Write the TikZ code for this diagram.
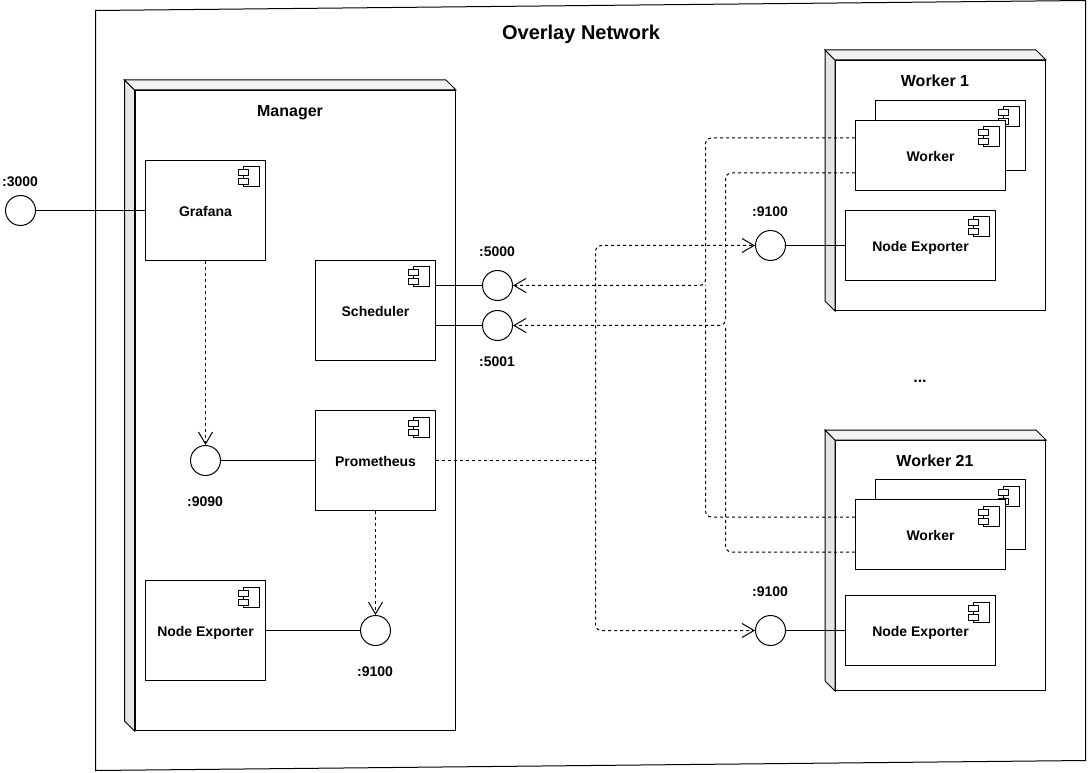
\documentclass[tikz,border=0pt]{standalone}
\usepackage{fontspec}
\setmainfont{Liberation Sans}
\usetikzlibrary{arrows.meta,calc}

\tikzset{
	every node/.style={font=\bfseries\fontsize{10.5pt}{12pt}\selectfont,inner sep=0pt,text height=8.4pt,text depth=0pt},
	bigtext/.style={font=\bfseries\fontsize{12pt}{14pt}\selectfont,text height=9.2pt},
	titletext/.style={font=\bfseries\fontsize{15pt}{18pt}\selectfont,text height=10.7pt},
	thinline/.style={line width=.75pt},
	dashline/.style={thinline,dash pattern=on 2.25pt off 2.25pt,rounded corners=4.5pt},
	openarrow/.style={-{Straight Barb[length=9pt,width=10.5pt,line width=.75pt]}},
	port/.style={draw,thinline,fill=white,circle,minimum size=22.5pt},
	comp/.style 2 args={draw,thinline,fill=white,rectangle,minimum width=#1*.75pt,minimum height=#2*.75pt},
}

% small component mark in the corner of a box
\newcommand{\compmark}[1]{
	\draw [thinline] ($(#1.north east)+(-23,7)$) rectangle ($(#1.north east)+(-7,27)$);
	\draw [thinline,fill=white] ($(#1.north east)+(-28,10)$) rectangle ($(#1.north east)+(-18,16)$);
	\draw [thinline,fill=white] ($(#1.north east)+(-28,19)$) rectangle ($(#1.north east)+(-18,25)$);
}

% side and top faces round the front of a cube
\newcommand{\cubefaces}[1]{
	\draw [thinline,fill=black!10] (#1.north west) -- ($(#1.north west)+(-10,-10)$) -- ($(#1.south west)+(-10,-10)$) -- (#1.south west) -- cycle;
	\draw [thinline,fill=black!5] (#1.north west) -- ($(#1.north west)+(-10,-10)$) -- ($(#1.north east)+(-10,-10)$) -- (#1.north east) -- cycle;
}

\begin{document}
\begin{tikzpicture}[x=.75pt,y=-.75pt]

\useasboundingbox (0,0) rectangle (1088,773);

% overlay
\draw [thinline] (95.5,10.5) -- (1085.5,0.5) -- (1085.5,760.5) -- (95.5,770.5) -- cycle;
\node [titletext] (overlay) at (581,32) {Overlay Network};

% cubes
\foreach \name/\x/\y/\w/\h in {manager/295.25/410.5/320.5/640,workera/940.5/185.5/210/250,workerb/940.5/565.5/210/250} {
	\node [comp={\w}{\h}] (\name) at (\x,\y) {};
	\cubefaces{\name}
}
\node [bigtext] (managertitle) at (290,110) {Manager};
\node [bigtext] (workeratitle) at (935,80) {Worker 1};
\node [bigtext] (workerbtitle) at (935,460) {Worker 21};

% components
\foreach \name/\x/\y/\w/\h/\txt in {
	grafana/205.5/210.5/120/100/Grafana,
	scheduler/375.5/310.5/120/100/Scheduler,
	prometheus/375.5/460.5/120/100/Prometheus,
	exporterm/205.5/630.5/120/100/Node Exporter,
	backa/950.5/135.5/150/70/,
	fronta/930.5/155.5/150/70/Worker,
	exportera/920.5/245.5/150/70/Node Exporter,
	backb/950.5/514.5/150/70/,
	frontb/930.5/534.5/150/70/Worker,
	exporterb/920.5/630.5/150/70/Node Exporter} {
	\node [comp={\w}{\h}] (\name) at (\x,\y) {\txt};
	\compmark{\name}
}

% ports
\foreach \name/\x/\y in {p3000/20.5/210.5,p9090/205.5/460.5,p9100m/375.5/630.5,p5000/497.5/285.5,p5001/497.5/325.5,p9100a/770.5/245.5,p9100b/770.5/630.5} {
	\node [port] (\name) at (\x,\y) {};
}

\foreach \name/\x/\y/\txt in {l3000/20/181/:3000,l9090/205/501/:9090,l9100m/375/671/:9100,l5000/497/251/:5000,l5001/497/361/:5001,l9100a/770/211/:9100,l9100b/770/591/:9100} {
	\node (\name) at (\x,\y) {\txt};
}
\node [bigtext] (dots) at (920,376) {...};

% plain links
\draw [thinline] (p3000.east) -- (grafana.west);
\draw [thinline] (p9090.east) -- (prometheus.west);
\draw [thinline] (exporterm.east) -- (p9100m.west);
\draw [thinline] (scheduler.east |- p5000) -- (p5000.west);
\draw [thinline] (scheduler.east |- p5001) -- (p5001.west);
\draw [thinline] (p9100a.east) -- (exportera.west);
\draw [thinline] (p9100b.east) -- (exporterb.west);

% dashed links
\coordinate (busa) at (705.5,285.5);
\coordinate (busb) at (725.5,325.5);
\coordinate (busc) at (595.5,460.5);

\draw [dashline,openarrow] (grafana.south) -- (p9090.north);
\draw [dashline,openarrow] (prometheus.south) -- (p9100m.north);

\draw [dashline,openarrow] ($(fronta.west)+(0,-17.5)$) -| (busa) -- (p5000.east);
\draw [dashline,openarrow] ($(fronta.west)+(0,17.5)$) -| (busb) -- (p5001.east);
\draw [dashline] ($(frontb.west)+(0,-17.5)$) -| (busa);
\draw [dashline] ($(frontb.west)+(0,17.5)$) -| (busb);

\draw [dashline] (prometheus.east) -- (busc);
\draw [dashline,openarrow] (busc) |- (p9100a.west);
\draw [dashline,openarrow] (busc) |- (p9100b.west);

\end{tikzpicture}
\end{document}
